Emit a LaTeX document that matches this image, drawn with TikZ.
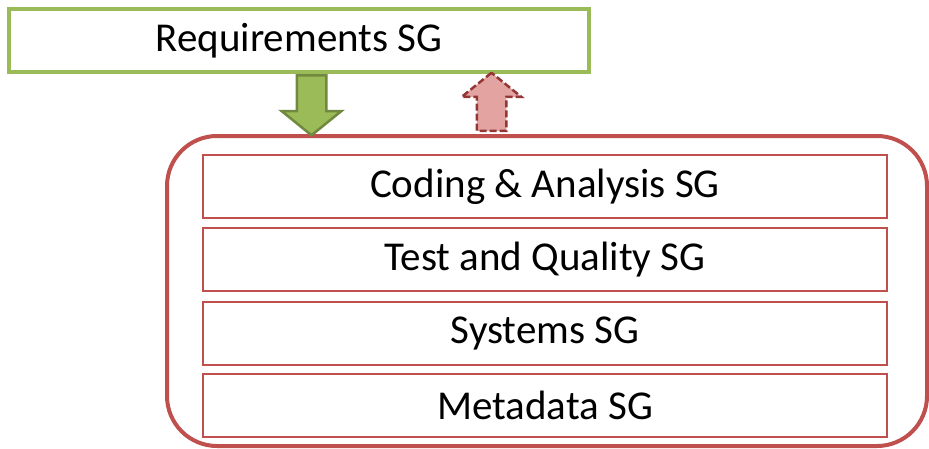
\documentclass[tikz,border=0pt]{standalone}
\usepackage{fontspec}
\setmainfont{Carlito}
\usetikzlibrary{shapes.arrows}
\definecolor{sggreen}{HTML}{9BBB59}
\definecolor{sggreendark}{HTML}{71893F}
\definecolor{sgred}{HTML}{C0504D}
\definecolor{sgredlight}{HTML}{E2A3A1}
\definecolor{sgreddark}{HTML}{943634}
\tikzset{
  sgtext/.style={font=\fontsize{41}{49}\selectfont, inner sep=0pt},
  sgbox/.style={sgtext, draw=sgred, line width=2pt, minimum width=684pt, minimum height=63pt},
  blockarrow/.style={shape=single arrow, line width=2.5pt, text height=0pt, text depth=0pt,
    inner xsep=0pt, inner ysep=13.5pt, single arrow head extend=15pt, single arrow tip angle=102},
  downarrow/.style={blockarrow, rotate=-90, draw=sggreendark, fill=sggreen, minimum height=60pt},
  uparrow/.style={blockarrow, rotate=90, draw=sgreddark, fill=sgredlight, dash pattern=on 7pt off 3pt,
    minimum height=58pt}
}
\begin{document}
\begin{tikzpicture}[x=1pt, y=-1pt]
\useasboundingbox (0,0) rectangle (929,448);
% outer group
\draw[sgred, line width=4pt, rounded corners=50pt] (167,136) rectangle (927,446);
% requirements
\node[sgtext, draw=sggreen, line width=4pt, minimum width=580pt, minimum height=63pt] (req) at (299,40.5) {Requirements SG};
% study groups
\node[sgbox] (coding) at (545,186.5) {Coding \& Analysis SG};
\node[sgbox] (test) at (545,259.5) {Test and Quality SG};
\node[sgbox] (sys) at (545,333) {Systems SG};
\node[sgbox] (meta) at (545,405.5) {Metadata SG};
% arrows
\node[downarrow, anchor=tail] (down) at (311.5,74) {};
\node[uparrow, anchor=tail] (up) at (491.5,132) {};
\end{tikzpicture}
\end{document}
